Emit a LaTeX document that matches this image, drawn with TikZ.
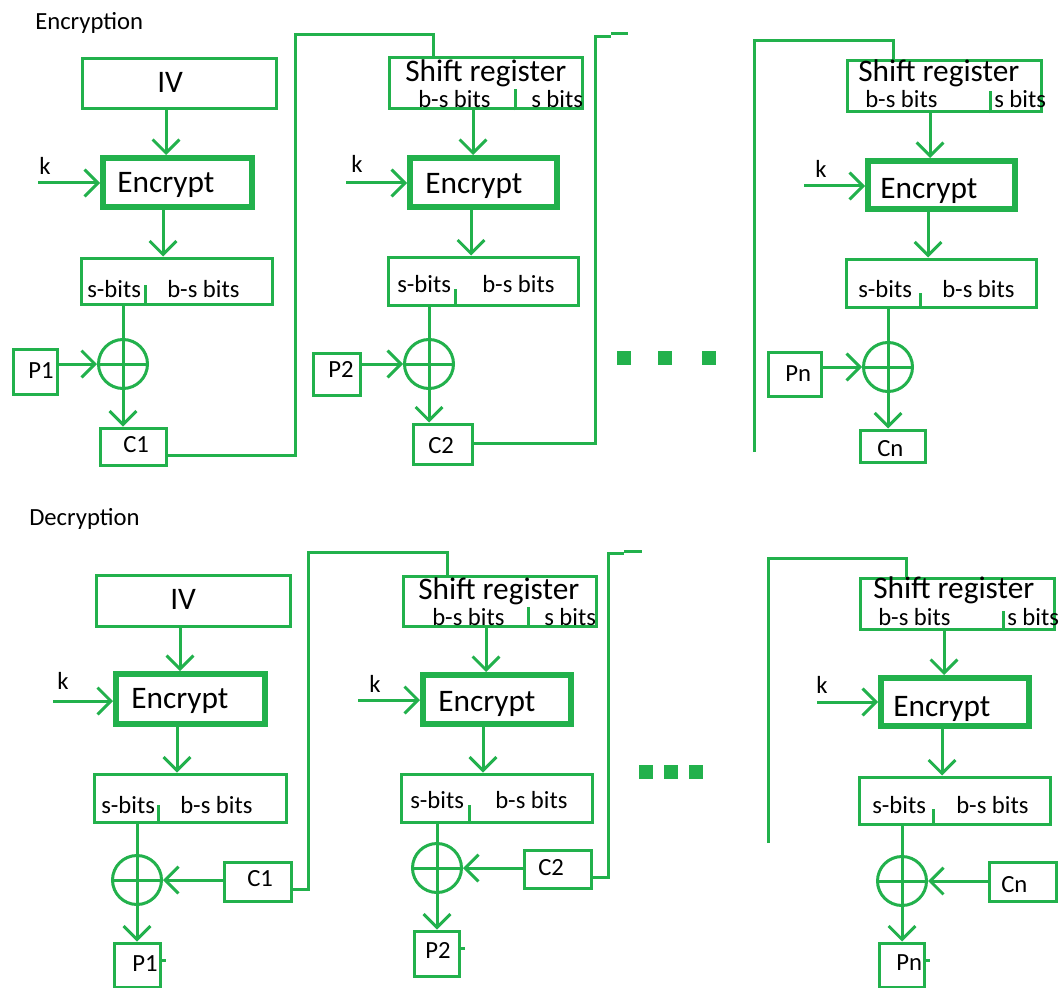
\documentclass[tikz,border=0pt]{standalone}
\usepackage{fontspec}
\setmainfont{Carlito}
\usetikzlibrary{arrows.meta,calc}
\definecolor{pgreen}{RGB}{34,177,76}
\tikzset{
	line/.style={draw=pgreen, line width=2.25pt},
	arr/.style={line, -{Straight Barb[length=10pt,width=20pt]}},
	box/.style={draw=pgreen, line width=2.25pt, inner sep=0pt},
	encbox/.style={draw=pgreen, line width=4.5pt, inner sep=0pt},
	sz/.style 2 args={minimum width=#1*0.75pt, minimum height=#2*0.75pt},
	xor/.style={circle, draw=pgreen, line width=2.25pt, inner sep=0pt, minimum size=36.75pt},
	dot/.style={fill=pgreen, inner sep=0pt, minimum size=10.5pt},
	txt/.style={anchor=base west, inner sep=0pt, font=\fontsize{18.5}{20}\selectfont},
	bigtxt/.style={anchor=base west, inner sep=0pt, font=\fontsize{23.5}{26}\selectfont}
}
\begin{document}
\begin{tikzpicture}[x=0.75pt, y=-0.75pt]
	\useasboundingbox[fill=white] (0,0) rectangle (1064,988);
	% encryption, first stage
	\node[txt] (t-enc) at (35,30) {Encryption};
	\node[box, sz={194}{50}] (iv1) at (179,84) {};
	\node[encbox, sz={149}{49}] (enc1) at (177.5,182.5) {};
	\node[box, sz={191}{46}] (spl1) at (176.5,281) {};
	\node[xor] (x1) at (123,364) {};
	\node[box, sz={44}{45}] (p1) at (35,371.5) {};
	\node[box, sz={66}{37}] (c1) at (133,446.5) {};
	\node[bigtxt] (t-iv1) at (157,93) {IV};
	\node[bigtxt] (t-enc1) at (117,193) {Encrypt};
	\node[txt] (t-k1) at (39,175) {k};
	\node[txt] (t-s1) at (87,297) {s-bits};
	\node[txt] (t-bs1) at (167,297) {b-s bits};
	\node[txt] (t-p1) at (28,378) {P1};
	\node[txt] (t-c1) at (123,452) {C1};
	\coordinate (k1) at (38,183);
	\draw[arr] ($(iv1.south)+(-13,0)$) -- ($(enc1.north)+(-11.5,0)$);
	\draw[arr] (k1) -- (k1 -| enc1.west);
	\draw[arr] ($(enc1.south)+(-14.5,0)$) -- ($(spl1.north)+(-13.5,0)$);
	\draw[line] ($(spl1.south)+(-31.5,0)$) -- +(0,-21);
	\draw[arr] (spl1.south -| x1) -- (c1.north -| x1);
	\draw[line] (x1.west) -- (x1.east);
	\draw[arr] (p1.east |- x1) -- (x1.west);

	% encryption, second stage
	\node[box, sz={193}{51}] (sr2) at (485.5,83.5) {};
	\node[encbox, sz={147}{49}] (enc2) at (483.5,182.5) {};
	\node[box, sz={190}{48}] (spl2) at (483,281) {};
	\node[xor] (x2) at (429,364) {};
	\node[box, sz={47}{42}] (p2) at (336.5,374) {};
	\node[box, sz={59}{40}] (c2) at (442.5,444) {};
	\node[bigtxt] (t-sr2) at (405,82) {Shift register};
	\node[txt] (t-sbs2) at (418,108) {b-s bits};
	\node[txt] (t-ss2) at (531,108) {s bits};
	\node[bigtxt] (t-enc2) at (425,194) {Encrypt};
	\node[txt] (t-k2) at (351,173) {k};
	\node[txt] (t-s2) at (397,292) {s-bits};
	\node[txt] (t-bs2) at (482,292) {b-s bits};
	\node[txt] (t-p2) at (328,377) {P2};
	\node[txt] (t-c2) at (428,453) {C2};
	\coordinate (k2) at (346,183);
	\draw[line] ($(c1.east)+(0,8.5)$) -| (295,35) -| ($(sr2.north)+(-52.5,0)$);
	\draw[line] ($(sr2.south)+(29.5,0)$) -- +(0,-21);
	\draw[arr] ($(sr2.south)+(-12.5,0)$) -- ($(enc2.north)+(-10.5,0)$);
	\draw[arr] (k2) -- (k2 -| enc2.west);
	\draw[arr] ($(enc2.south)+(-12.5,0)$) -- ($(spl2.north)+(-12,0)$);
	\draw[line] ($(spl2.south)+(-28,0)$) -- +(0,-18);
	\draw[arr] (spl2.south -| x2) -- (c2.north -| x2);
	\draw[line] (x2.west) -- (x2.east);
	\draw[arr] (p2.east |- x2) -- (x2.west);
	\draw[line] ($(c2.east)+(0,-1)$) -| (595,37) -- (611,37) (611,34) -- (628,34);

	% encryption, last stage
	\foreach \dx [count=\i] in {624,665,709}
		\node[dot] (d\i) at (\dx,358) {};
	\node[box, sz={194}{51}] (sr3) at (944,86.5) {};
	\node[encbox, sz={147}{48}] (enc3) at (941.5,185) {};
	\node[box, sz={190}{48}] (spl3) at (941,283) {};
	\node[xor] (x3) at (888,367) {};
	\node[box, sz={53}{44}] (pn) at (794.5,374) {};
	\node[box, sz={65}{32}] (cn) at (892.5,446) {};
	\node[bigtxt] (t-sr3) at (858,82) {Shift register};
	\node[txt] (t-sbs3) at (865,108) {b-s bits};
	\node[txt] (t-ss3) at (994,108) {s bits};
	\node[bigtxt] (t-enc3) at (880,199) {Encrypt};
	\node[txt] (t-k3) at (815,178) {k};
	\node[txt] (t-s3) at (858,297) {s-bits};
	\node[txt] (t-bs3) at (942,297) {b-s bits};
	\node[txt] (t-pn) at (785,381) {Pn};
	\node[txt] (t-cn) at (877,456) {Cn};
	\coordinate (k3) at (804,186);
	\draw[line] (754,452) -- (754,41) -| ($(sr3.north)+(-51,0)$);
	\draw[line] ($(sr3.south)+(46,0)$) -- +(0,-22);
	\draw[arr] ($(sr3.south)+(-14,0)$) -- ($(enc3.north)+(-11.5,0)$);
	\draw[arr] (k3) -- (k3 -| enc3.west);
	\draw[arr] ($(enc3.south)+(-13.5,0)$) -- ($(spl3.north)+(-13,0)$);
	\draw[line] ($(spl3.south)+(-21,0)$) -- +(0,-16);
	\draw[arr] (spl3.south -| x3) -- (cn.north -| x3);
	\draw[line] (x3.west) -- (x3.east);
	\draw[arr] (pn.east |- x3) -- (x3.west);

	% decryption, first stage
	\node[txt] (t-dec) at (29,525) {Decryption};
	\node[box, sz={194}{51}] (iv4) at (193,600.5) {};
	\node[encbox, sz={149}{50}] (enc4) at (190.5,699) {};
	\node[box, sz={192}{48}] (spl4) at (190,798) {};
	\node[xor] (x4) at (137,880) {};
	\node[box, sz={67}{39}] (c1d) at (257.5,881.5) {};
	\node[box, sz={46}{44}] (p1d) at (137,965) {};
	\node[bigtxt] (t-iv4) at (170,609) {IV};
	\node[bigtxt] (t-enc4) at (131,708) {Encrypt};
	\node[txt] (t-k4) at (57,689) {k};
	\node[txt] (t-s4) at (101,813) {s-bits};
	\node[txt] (t-bs4) at (180,813) {b-s bits};
	\node[txt] (t-c1d) at (247,886) {C1};
	\node[txt] (t-p1d) at (132,971) {P1};
	\coordinate (k4) at (53,701);
	\draw[arr] ($(iv4.south)+(-13,0)$) -- ($(enc4.north)+(-10.5,0)$);
	\draw[arr] (k4) -- (k4 -| enc4.west);
	\draw[arr] ($(enc4.south)+(-13.5,0)$) -- ($(spl4.north)+(-13,0)$);
	\draw[line] ($(spl4.south)+(-32,0)$) -- +(0,-19);
	\draw[arr] (spl4.south -| x4) -- (p1d.north -| x4);
	\draw[line] (x4.west) -- (x4.east);
	\draw[arr] (c1d.west |- x4) -- (x4.east);
	\draw[line] ($(p1d.east)+(0,-5)$) -- +(4,0);

	% decryption, second stage
	\node[box, sz={193}{50}] (sr5) at (499.5,601) {};
	\node[encbox, sz={148}{49}] (enc5) at (497,699.5) {};
	\node[box, sz={191}{48}] (spl5) at (496.5,798) {};
	\node[xor] (x5) at (437,868) {};
	\node[box, sz={67}{38}] (c2d) at (557.5,869) {};
	\node[box, sz={45}{45}] (p2d) at (436.5,953.5) {};
	\node[bigtxt] (t-sr5) at (418,599) {Shift register};
	\node[txt] (t-sbs5) at (432,625) {b-s bits};
	\node[txt] (t-ss5) at (544,625) {s bits};
	\node[bigtxt] (t-enc5) at (438,711) {Encrypt};
	\node[txt] (t-k5) at (369,692) {k};
	\node[txt] (t-s5) at (410,808) {s-bits};
	\node[txt] (t-bs5) at (495,808) {b-s bits};
	\node[txt] (t-c2d) at (538,875) {C2};
	\node[txt] (t-p2d) at (425,958) {P2};
	\coordinate (k5) at (358,700);
	\draw[line] ($(c1d.east)+(0,7.5)$) -| (308,552) -| ($(sr5.north)+(-52.5,0)$);
	\draw[line] ($(sr5.south)+(28.5,0)$) -- +(0,-21);
	\draw[arr] ($(sr5.south)+(-13.5,0)$) -- ($(enc5.north)+(-11,0)$);
	\draw[arr] (k5) -- (k5 -| enc5.west);
	\draw[arr] ($(enc5.south)+(-14,0)$) -- ($(spl5.north)+(-13.5,0)$);
	\draw[line] ($(spl5.south)+(-27.5,0)$) -- +(0,-19);
	\draw[arr] (spl5.south -| x5) -- (p2d.north -| x5);
	\draw[line] (x5.west) -- (x5.east);
	\draw[arr] (c2d.west |- x5) -- (x5.east);
	\draw[line] ($(p2d.east)+(0,-5.5)$) -- +(4,0);
	\draw[line] ($(c2d.east)+(0,8)$) -| (608,553) -- (624,553) (624,551) -- (642,551);

	% decryption, last stage
	\foreach \dx [count=\i] in {646,671,696}
		\node[dot] (e\i) at (\dx,772) {};
	\node[box, sz={194}{51}] (sr6) at (957,603.5) {};
	\node[encbox, sz={148}{48}] (enc6) at (955,702) {};
	\node[box, sz={191}{47}] (spl6) at (954.5,800.5) {};
	\node[xor] (x6) at (902,881) {};
	\node[box, sz={67}{39}] (cnd) at (1022.5,881.5) {};
	\node[box, sz={45}{44}] (pnd) at (901.5,965) {};
	\node[bigtxt] (t-sr6) at (873,598) {Shift register};
	\node[txt] (t-sbs6) at (878,625) {b-s bits};
	\node[txt] (t-ss6) at (1007,625) {s bits};
	\node[bigtxt] (t-enc6) at (893,716) {Encrypt};
	\node[txt] (t-k6) at (816,693) {k};
	\node[txt] (t-s6) at (872,813) {s-bits};
	\node[txt] (t-bs6) at (956,813) {b-s bits};
	\node[txt] (t-cnd) at (1001,892) {Cn};
	\node[txt] (t-pnd) at (896,970) {Pn};
	\coordinate (k6) at (817,702);
	\draw[line] (768,843) -- (768,558) -| ($(sr6.north)+(-51,0)$);
	\draw[line] ($(sr6.south)+(46,0)$) -- +(0,-20);
	\draw[arr] ($(sr6.south)+(-13,0)$) -- ($(enc6.north)+(-11,0)$);
	\draw[arr] (k6) -- (k6 -| enc6.west);
	\draw[arr] ($(enc6.south)+(-13,0)$) -- ($(spl6.north)+(-12.5,0)$);
	\draw[line] ($(spl6.south)+(-21.5,0)$) -- +(0,-17);
	\draw[arr] (spl6.south -| x6) -- (pnd.north -| x6);
	\draw[line] (x6.west) -- (x6.east);
	\draw[arr] (cnd.west |- x6) -- (x6.east);
	\draw[line] ($(pnd.east)+(0,-5)$) -- +(4,0);
\end{tikzpicture}
\end{document}
